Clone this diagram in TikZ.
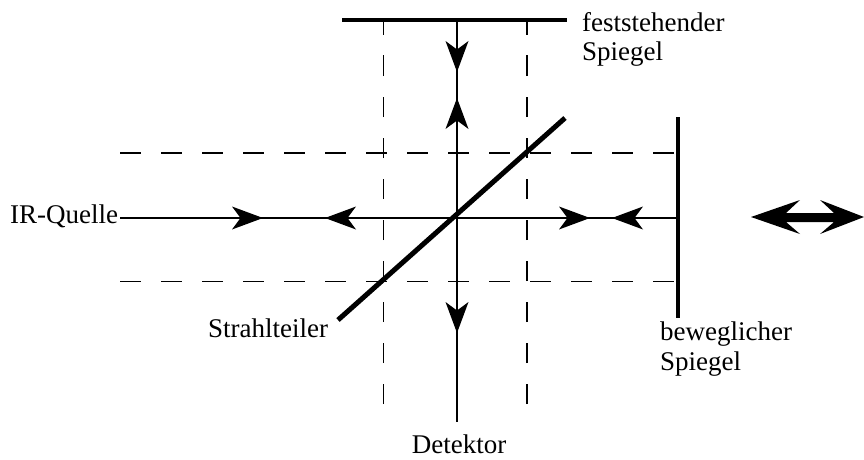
\documentclass[tikz,border=0pt]{standalone}
\usepackage{fontspec}
\setmainfont{Liberation Serif}
\tikzset{
  beam/.style={line width=1.8pt,black},
  mirror/.style={line width=4pt,black},
  splitter/.style={line width=5pt,black},
  guide/.style={line width=1.8pt,black,dash pattern=on 20.5pt off 20.5pt},
  lab/.style={font=\fontsize{27}{28}\selectfont,align=left,inner sep=0pt},
  barb/.pic={\fill[black] (-31,-11.5) -- (0,0) -- (-31,11.5) -- (-22.5,0) -- cycle;}
}
\begin{document}
\begin{tikzpicture}[x=1pt,y=-1pt]
\useasboundingbox (0,0) rectangle (864,460);
% coordinates
\coordinate (fmL) at (342,20);
\coordinate (fmR) at (567,20);
\coordinate (bmT) at (678,117);
\coordinate (bmB) at (678,318);
\coordinate (sA) at (338,320);
\coordinate (sB) at (565,118);
\coordinate (det) at (457,422);
\coordinate (src) at (120,218);
\coordinate (bm) at (678,218);
\coordinate (ft) at (457,20);
\coordinate (dLT) at (383.5,20);
\coordinate (dLB) at (383.5,404);
\coordinate (dRT) at (527,20);
\coordinate (dRB) at (527,404);
\coordinate (dTL) at (120,153);
\coordinate (dTR) at (678,153);
\coordinate (dBL) at (120,281.5);
\coordinate (dBR) at (678,281.5);
% dashed
\draw[guide] (dLB) -- (dLT);
\draw[guide] (dRB) -- (dRT);
\draw[guide] (dTL) -- (dTR);
\draw[guide] (dBL) -- (dBR);
% beams
\draw[beam] (src) -- (bm);
\draw[beam] (ft) -- (det);
% mirrors
\draw[mirror] (fmL) -- (fmR);
\draw[mirror] (bmT) -- (bmB);
\draw[splitter] (sA) -- (sB);
% barbs
\pic at (263,218) {barb};
\pic[rotate=180] at (325,218) {barb};
\pic at (590,218) {barb};
\pic[rotate=180] at (612,218) {barb};
\pic[rotate=-90] at (457,72) {barb};
\pic[rotate=90] at (457,98) {barb};
\pic[rotate=-90] at (457,333) {barb};
% double arrow
\fill[black] (751,217) -- (800,200) -- (786,213) -- (834,213) -- (820,200) -- (864,217) -- (820,234) -- (834,222) -- (786,222) -- (800,234) -- cycle;
% labels
\node[lab,anchor=base west] (n1) at (10,223) {IR-Quelle};
\node[lab,anchor=base west] (n2) at (582,32) {feststehender};
\node[lab,anchor=base west] (n2b) at (582,60) {Spiegel};
\node[lab,anchor=base west] (n3) at (208,337) {Strahlteiler};
\node[lab,anchor=base west] (n4) at (660,340) {beweglicher};
\node[lab,anchor=base west] (n4b) at (660,370) {Spiegel};
\node[lab,anchor=base] (n5) at (459,453) {Detektor};
\end{tikzpicture}
\end{document}
